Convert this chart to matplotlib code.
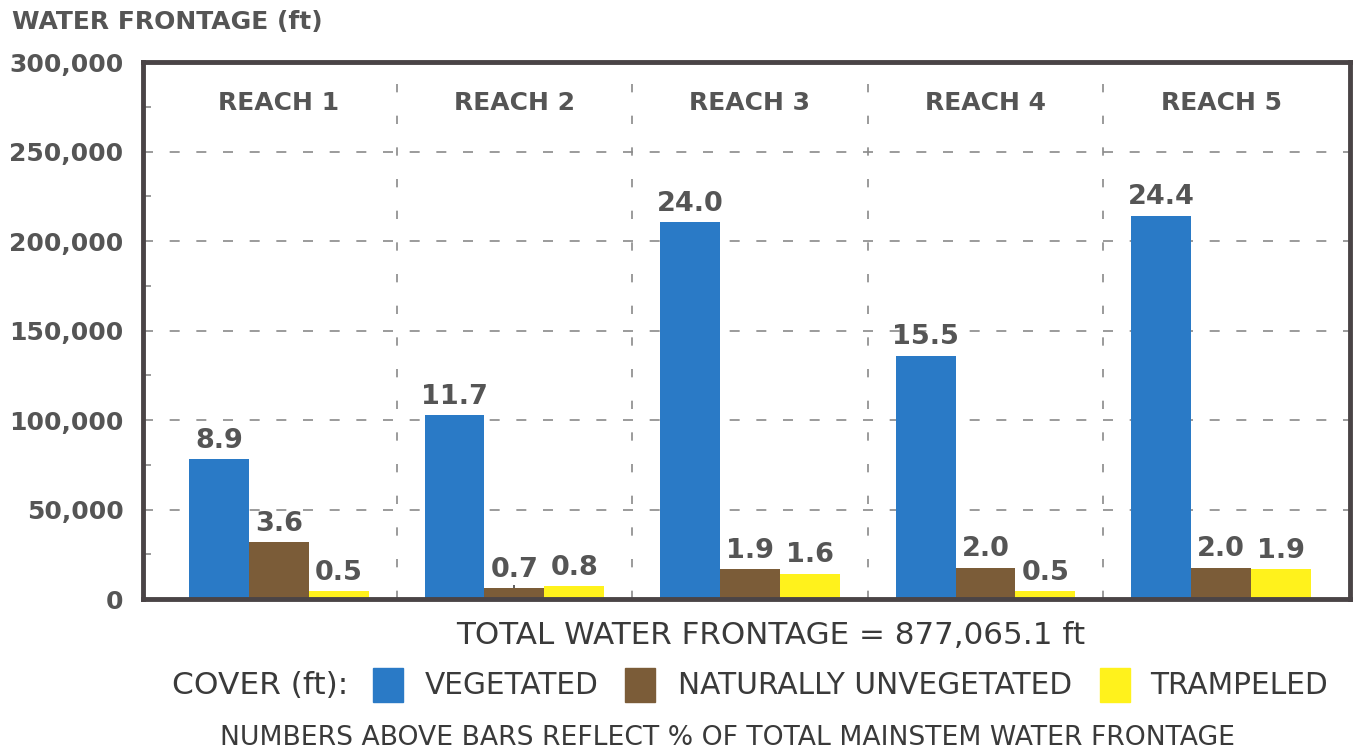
import matplotlib
matplotlib.use("Agg")
import matplotlib.pyplot as plt
from matplotlib.patches import Rectangle
from matplotlib.ticker import MultipleLocator, FuncFormatter
import numpy as np

reaches = ["REACH 1", "REACH 2", "REACH 3", "REACH 4", "REACH 5"]
vegetated = [78000, 102600, 210500, 136000, 214000]
unvegetated = [31600, 6100, 16700, 17500, 17500]
trampeled = [4400, 7000, 14000, 4400, 16700]
pct_veg = ["8.9", "11.7", "24.0", "15.5", "24.4"]
pct_unveg = ["3.6", "0.7", "1.9", "2.0", "2.0"]
pct_tramp = ["0.5", "0.8", "1.6", "0.5", "1.9"]
series_names = ["VEGETATED", "NATURALLY UNVEGETATED", "TRAMPELED"]
colors = ["#2a7ac6", "#7b5c38", "#fff21c"]

TXT = "#555555"
FRAME = "#4a4446"
GRID = "#8a8a8a"

fig = plt.figure(figsize=(13.56, 7.53), dpi=100)
ax = fig.add_axes([0.1055, 0.2045, 0.8900, 0.7130])

x = np.arange(len(reaches))
w = 0.254
series = [vegetated, unvegetated, trampeled]
labels = [pct_veg, pct_unveg, pct_tramp]
for i, (vals, labs, c) in enumerate(zip(series, labels, colors)):
    bars = ax.bar(x + (i - 1) * w, vals, w, color=c, edgecolor="none", zorder=3)
    for b, lab in zip(bars, labs):
        ax.annotate(lab, (b.get_x() + b.get_width() / 2, b.get_height()),
                    xytext=(0, 4), textcoords="offset points",
                    ha="center", va="bottom", fontsize=19.5, fontweight="bold",
                    color=TXT, zorder=4)

ax.set_xlim(-0.576, 4.547)
ax.set_ylim(0, 300000)

# grid & separators
ax.yaxis.set_major_locator(MultipleLocator(50000))
ax.yaxis.set_minor_locator(MultipleLocator(25000))
for yv in np.arange(50000, 300000, 50000):
    ax.axhline(yv, color=GRID, lw=1.2, ls=(0, (6, 10)), zorder=1)
for xv in np.arange(0.5, len(reaches) - 0.5, 1.0):
    ax.axvline(xv, color=GRID, lw=1.2, ls=(0, (5, 14)), zorder=1)

for xi, name in zip(x, reaches):
    ax.text(xi, 277000, name, ha="center", va="center", fontsize=18,
            fontweight="bold", color=TXT)

ax.yaxis.set_major_formatter(FuncFormatter(lambda v, p: f"{int(v):,}"))
ax.tick_params(axis="y", which="major", direction="in", length=0, pad=14,
               labelsize=18, labelcolor=TXT)
ax.tick_params(axis="y", which="minor", direction="in", length=6, width=1.2,
               color=GRID)
for lbl in ax.get_yticklabels():
    lbl.set_fontweight("bold")
ax.set_xticks(x)
ax.set_xticklabels([])
ax.tick_params(axis="x", direction="in", length=10, width=1.2, color="#444444")

for s in ax.spines.values():
    s.set_color(FRAME)
    s.set_linewidth(3.5)
    s.set_zorder(5)

fig.text(0.009, 0.971, "WATER FRONTAGE (ft)", ha="left", va="center",
         fontsize=18, fontweight="bold", color=TXT)

BOT = "#3a3a3a"
fig.text(0.568, 1 - 636 / 753, "TOTAL WATER FRONTAGE = 877,065.1 ft",
         ha="center", va="center", fontsize=22.3, color=BOT)

ly = 1 - 685 / 753
fig.text(172 / 1356, ly, "COVER (ft):", ha="left", va="center", fontsize=22.5,
         color=BOT)
patch_x = [373, 625, 1100]
text_x = [425, 678, 1150]
for px, tx, name, c in zip(patch_x, text_x, series_names, colors):
    fig.patches.append(Rectangle((px / 1356, 1 - 702 / 753), 30 / 1356, 34 / 753,
                                 transform=fig.transFigure, color=c))
    fig.text(tx / 1356, ly, name, ha="left", va="center", fontsize=21.3,
             color=BOT)

fig.text(728 / 1356, 1 - 738 / 753,
         "NUMBERS ABOVE BARS REFLECT % OF TOTAL MAINSTEM WATER FRONTAGE",
         ha="center", va="center", fontsize=19.2, color=BOT)

fig.savefig("out.png", dpi=100)
